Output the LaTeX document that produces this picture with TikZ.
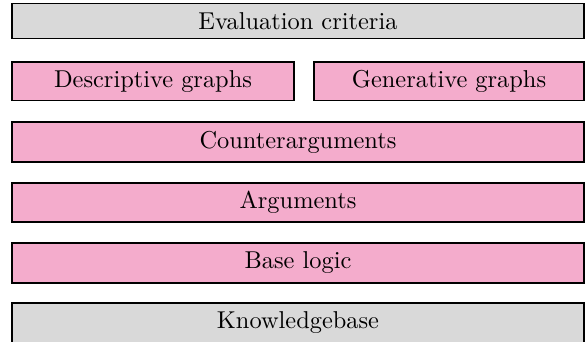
\documentclass[tikz,border=0pt]{standalone}
\definecolor{pinkfill}{RGB}{244,172,204}
\definecolor{grayfill}{RGB}{217,217,217}
\def\pxu{0.41}
\tikzset{
  layer/.style={draw=black, line width=0.6pt, inner sep=0pt, anchor=center},
  pinklayer/.style={layer, fill=pinkfill},
  graylayer/.style={layer, fill=grayfill},
  sz/.style 2 args={minimum width={#1*\pxu pt}, minimum height={#2*\pxu pt}},
}
\begin{document}
\begin{tikzpicture}[x=\pxu pt, y=-\pxu pt]
\useasboundingbox (0,0) rectangle (586,341);
\node[graylayer, sz={572}{35}] (eval) at (298,21) {Evaluation criteria};
\node[pinklayer, sz={282}{38.5}] (desc) at (153,81.25) {Descriptive graphs};
\node[pinklayer, sz={270}{38.5}] (gen) at (449,81.25) {Generative graphs};
\node[pinklayer, sz={572}{40}] (counter) at (298,142) {Counterarguments};
\node[pinklayer, sz={572}{39}] (args) at (298,202.5) {Arguments};
\node[pinklayer, sz={572}{40}] (base) at (298,263) {Base logic};
\node[graylayer, sz={572}{40}] (kb) at (298,323) {Knowledgebase};
\end{tikzpicture}
\end{document}
